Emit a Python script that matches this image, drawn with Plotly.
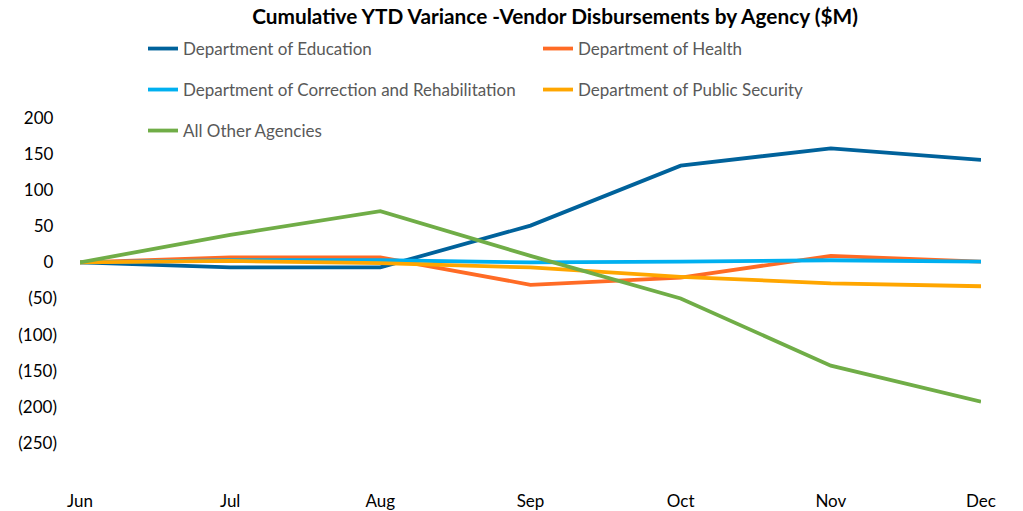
import plotly.graph_objects as go

months = ["Jun", "Jul", "Aug", "Sep", "Oct", "Nov", "Dec"]
education = [0, -7, -7, 51, 134, 158, 142]
health = [0, 7, 7, -31, -21, 9, 1]
correction = [0, 3, 3, 0, 1, 3, 1]
public_security = [0, 2, -1, -7, -20, -29, -33]
other = [0, 38, 71, 9, -50, -143, -193]

tick_vals = [200, 150, 100, 50, 0, -50, -100, -150, -200, -250]
tick_text = ["200\u2008", "150\u2008", "100\u2008", "50\u2008", "0\u2008",
             "(50)", "(100)", "(150)", "(200)", "(250)"]

series = [
    ("Department of Education", education, "#00629B", "legend"),
    ("Department of Health", health, "#FF6B25", "legend"),
    ("Department of Correction and Rehabilitation", correction, "#00B0F0", "legend2"),
    ("Department of Public Security", public_security, "#FFA600", "legend2"),
    ("All Other Agencies", other, "#70AD47", "legend3"),
]

fig = go.Figure()
for name, vals, color, lg in series:
    fig.add_trace(go.Scatter(x=months, y=vals, mode="lines", name=name,
                             line=dict(color=color, width=3.8), legend=lg))

leg_common = dict(orientation="h", xref="container", yref="container",
                  xanchor="left", yanchor="middle", entrywidthmode="pixels",
                  entrywidth=350, font=dict(family="Lato, Calibri, sans-serif", size=17, color="#595959"),
                  bgcolor="rgba(0,0,0,0)", traceorder="normal")

fig.update_layout(
    width=1023, height=511,
    margin=dict(l=80, r=42, t=118, b=32, autoexpand=False),
    paper_bgcolor="white", plot_bgcolor="white",
    title=dict(text="<b>Cumulative YTD Variance -Vendor Disbursements by Agency ($M)</b>",
               x=555/1023, xanchor="center", y=1-17/511, yanchor="middle",
               font=dict(family="Lato, Calibri, sans-serif", size=20.8, color="#000000")),
    legend=dict(x=143/1023, y=1-49/511, **leg_common),
    legend2=dict(x=143/1023, y=1-90/511, **leg_common),
    legend3=dict(x=143/1023, y=1-131/511, **leg_common),
    xaxis=dict(type="category", range=[0, 6], showgrid=False, zeroline=False,
               showline=False, ticks="", ticklabelstandoff=10, automargin=False,
               tickfont=dict(family="Lato, Calibri, sans-serif", size=17, color="#000000")),
    yaxis=dict(range=[-300, 200], tickvals=tick_vals, ticktext=tick_text,
               showgrid=False, zeroline=False, showline=False, ticks="",
               ticklabelstandoff=22, automargin=False,
               tickfont=dict(family="Lato, Calibri, sans-serif", size=17, color="#000000")),
    showlegend=True,
)

fig.write_html("out.html", config={"displayModeBar": False},
               post_script="document.body.style.margin='0';document.body.style.overflow='hidden';")
